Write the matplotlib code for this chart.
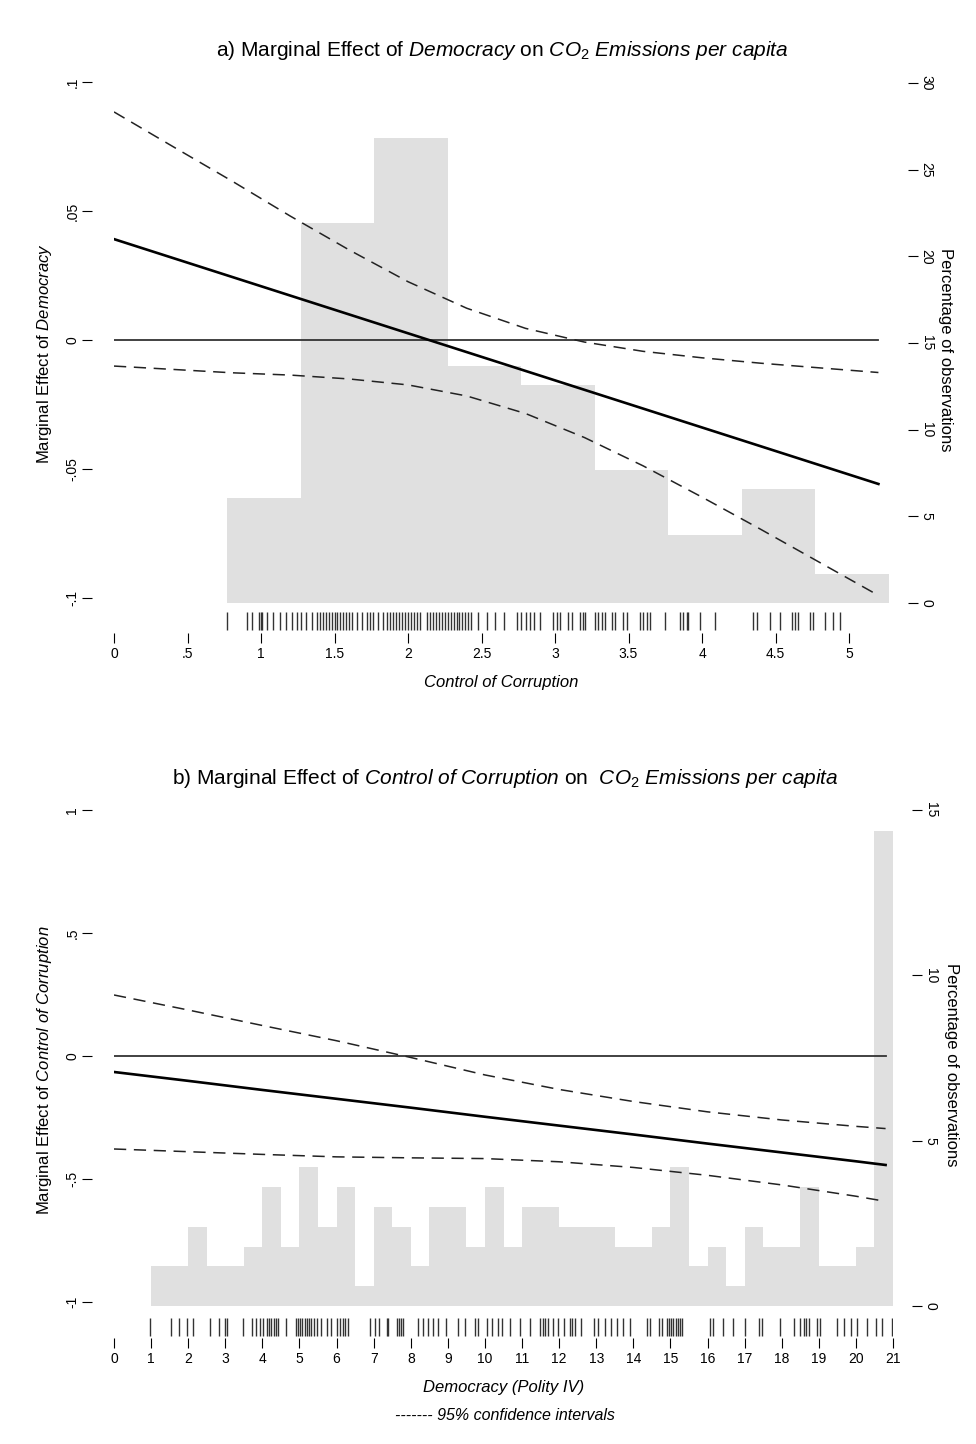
import numpy as np
import matplotlib
matplotlib.use("Agg")
import matplotlib.pyplot as plt

plt.rcParams['font.family'] = ['Liberation Sans', 'DejaVu Sans']
plt.rcParams['mathtext.fontset'] = 'custom'
plt.rcParams['mathtext.rm'] = 'Liberation Sans'
plt.rcParams['mathtext.it'] = 'Liberation Sans:italic'

# ---- panel a: marginal effect of democracy over control of corruption ----
a_x = [0, 0.4, 0.8, 1.2, 1.6, 2.0, 2.4, 2.8, 3.2, 3.6, 4.0, 4.4, 4.8, 5.2]
a_eff = [0.0391, 0.0318, 0.0245, 0.0172, 0.0099, 0.0026, -0.0047, -0.0120,
         -0.0193, -0.0266, -0.0339, -0.0412, -0.0485, -0.0558]
a_up = [0.0884, 0.0750, 0.0617, 0.0480, 0.0349, 0.0226, 0.0123, 0.0045,
        -0.0008, -0.0044, -0.0069, -0.0090, -0.0108, -0.0126]
a_lo = [-0.0101, -0.0114, -0.0127, -0.0136, -0.0151, -0.0174, -0.0217, -0.0285,
        -0.0378, -0.0488, -0.0609, -0.0734, -0.0862, -0.0990]
a_edges = [0.77, 1.27, 1.77, 2.27, 2.77, 3.27, 3.77, 4.27, 4.77, 5.27]
a_pct = [6.06, 21.9, 26.8, 13.7, 12.6, 7.7, 3.9, 6.6, 1.7]
a_rug = [0.767, 0.903, 0.937, 0.989, 0.998, 1.007, 1.039, 1.084, 1.129, 1.170,
         1.209, 1.247, 1.270, 1.306, 1.345, 1.38, 1.40, 1.42, 1.44, 1.46, 1.48,
         1.50, 1.52, 1.54, 1.56, 1.58, 1.60, 1.62, 1.651, 1.685, 1.72, 1.74,
         1.76, 1.798, 1.832, 1.86, 1.88, 1.90, 1.92, 1.94, 1.96, 1.98, 2.00,
         2.02, 2.04, 2.06, 2.08, 2.13, 2.15, 2.17, 2.19, 2.21, 2.23, 2.25,
         2.27, 2.29, 2.31, 2.33, 2.35, 2.37, 2.39, 2.41, 2.43, 2.478, 2.535,
         2.592, 2.653, 2.74, 2.77, 2.80, 2.83, 2.86, 2.898, 2.988, 3.011,
         3.034, 3.090, 3.113, 3.170, 3.193, 3.204, 3.272, 3.295, 3.318, 3.340,
         3.386, 3.408, 3.465, 3.488, 3.578, 3.601, 3.624, 3.646, 3.748, 3.850,
         3.873, 3.896, 3.907, 3.986, 4.088, 4.349, 4.372, 4.463, 4.531, 4.610,
         4.633, 4.655, 4.735, 4.757, 4.837, 4.893, 4.939]
a_xticks = [0, 0.5, 1, 1.5, 2, 2.5, 3, 3.5, 4, 4.5, 5]
a_xlabels = ['0', '.5', '1', '1.5', '2', '2.5', '3', '3.5', '4', '4.5', '5']
a_yticks = [-0.1, -0.05, 0, 0.05, 0.1]
a_ylabels = ['-.1', '-.05', '0', '.05', '.1']
a_rticks = [0, 5, 10, 15, 20, 25, 30]

# ---- panel b: marginal effect of control of corruption over democracy ----
b_x = [0, 2, 4, 6, 8, 10, 12, 14, 16, 18, 20, 20.8]
b_eff = [-0.065, -0.101, -0.138, -0.174, -0.210, -0.247, -0.283, -0.319,
         -0.356, -0.392, -0.428, -0.443]
b_up = [0.248, 0.187, 0.124, 0.062, -0.006, -0.077, -0.136, -0.185, -0.227,
        -0.260, -0.286, -0.295]
b_lo = [-0.378, -0.389, -0.400, -0.410, -0.414, -0.417, -0.430, -0.453, -0.485,
        -0.524, -0.570, -0.591]
b_counts = [2, 2, 4, 2, 2, 3, 6, 3, 7, 4, 6, 1, 5, 4, 2, 5, 5, 3, 6, 3,
            5, 5, 4, 4, 4, 3, 3, 4, 7, 2, 3, 1, 4, 3, 3, 6, 2, 2, 3, 24]
b_rug = [0.96, 1.54, 1.75, 1.97, 2.13, 2.58, 2.82, 2.98, 3.04, 3.47, 3.73, 3.84,
         3.94, 4.03, 4.12, 4.18, 4.24, 4.30, 4.36, 4.42, 4.63, 4.90, 4.96, 5.02,
         5.08, 5.14, 5.20, 5.26, 5.32, 5.38, 5.46, 5.59, 5.73, 5.86, 6.00, 6.10,
         6.17, 6.24, 6.31, 6.90, 7.03, 7.15, 7.35, 7.39, 7.62, 7.68, 7.74, 7.80,
         8.20, 8.34, 8.47, 8.61, 8.74, 8.95, 9.28, 9.46, 9.73, 9.82, 10.05,
         10.18, 10.36, 10.45, 10.68, 10.94, 11.21, 11.48, 11.57, 11.63, 11.70,
         11.84, 11.97, 12.14, 12.29, 12.35, 12.42, 12.60, 12.95, 13.04, 13.23,
         13.41, 13.55, 13.73, 13.91, 14.36, 14.45, 14.68, 14.77, 14.90, 14.96,
         15.02, 15.08, 15.14, 15.20, 15.26, 15.30, 16.07, 16.16, 16.43, 16.70,
         17.02, 17.38, 17.47, 17.96, 18.32, 18.50, 18.59, 18.66, 18.73, 18.95,
         19.02, 19.50, 19.68, 19.86, 20.04, 20.31, 20.53, 20.71, 20.98]
b_xticks = list(range(0, 22))
b_yticks = [-1, -0.5, 0, 0.5, 1]
b_ylabels = ['-1', '-.5', '0', '.5', '1']
b_rticks = [0, 5, 10, 15]

W, H = 976, 1444
fig = plt.figure(figsize=(W / 100, H / 100), dpi=100)
bar_col = '#e0e0e0'
tick_kw = dict(length=7, width=0.8, color='black', labelsize=10)


def box(l, r, t, b):
    return [l / W, 1 - b / H, (r - l) / W, (b - t) / H]


def panel(rect, xlim, ylim, rlim, x, eff, up, lo, edges, pct, rug, rug_y,
          xticks, xlabels, yticks, ylabels, rticks, gap_l, gap_r):
    ax = fig.add_axes(rect)
    ax2 = ax.twinx()
    ax.set_zorder(ax2.get_zorder() + 1)
    ax.patch.set_visible(False)

    ax2.bar(edges[:-1], pct, width=np.diff(edges), align='edge',
            color=bar_col, linewidth=0)
    ax2.set_ylim(*rlim)

    ax.plot([x[0], x[-1]], [0, 0], color='#333333', lw=1.3)
    ax.plot(x, up, color='#222222', lw=1.1, dashes=(8, 5))
    ax.plot(x, lo, color='#222222', lw=1.1, dashes=(8, 5))
    ax.plot(x, eff, color='black', lw=1.9)
    ax.vlines(rug, rug_y[0], rug_y[1], color='#333333', lw=1.0)
    ax.set_xlim(*xlim)
    ax.set_ylim(*ylim)

    for s in ax.spines.values():
        s.set_color('none')
    for s in ax2.spines.values():
        s.set_color('none')
    ax.spines['left'].set_position(('outward', gap_l))
    ax2.spines['right'].set_position(('outward', gap_r))

    ax.set_xticks(xticks)
    ax.set_xticklabels(xlabels)
    ax.set_yticks(yticks)
    ax.set_yticklabels(ylabels, rotation=90, va='center')
    ax.tick_params(axis='x', pad=3, **tick_kw)
    ax.tick_params(axis='y', pad=2, **tick_kw)
    ax2.set_yticks(rticks)
    ax2.set_yticklabels([str(v) for v in rticks], rotation=-90, va='center')
    ax2.tick_params(axis='y', pad=1, **tick_kw)
    return ax, ax2


# panel a
a_ylim = (-0.1 - (633 - 598) * 0.2 / 516, 0.1 + (82 - 75) * 0.2 / 516)
a_rlim = (-(633 - 603) * 30 / 520, 30 + (83 - 75) * 30 / 520)
a_rug_y = (-0.1 - (612 - 598) * 0.2 / 516, -0.1 - (630 - 598) * 0.2 / 516)
axa, axa2 = panel(box(114, 889, 75, 633), (0, 5.272), a_ylim, a_rlim,
                  a_x, a_eff, a_up, a_lo, a_edges, a_pct, a_rug, a_rug_y,
                  a_xticks, a_xlabels, a_yticks, a_ylabels, a_rticks, 16, 14)
axa.set_xlabel('Control of Corruption', fontsize=12, style='italic', labelpad=10)
axa.set_ylabel(r'Marginal Effect of $\mathit{Democracy}$', fontsize=12, labelpad=8)
fig.text(946 / W, 1 - 350 / H, 'Percentage of observations', fontsize=12,
         rotation=-90, ha='center', va='center')
fig.text(502 / W, 1 - 51 / H,
         r'a) Marginal Effect of $\mathit{Democracy}$ on $\mathit{CO}_{\mathrm{2}}$'
         r' $\mathit{Emissions\ per\ capita}$', fontsize=15,
         ha='center', va='center')

# panel b
b_edges = [1 + 0.5 * i for i in range(41)]
b_pct = 100 * np.array(b_counts) / np.sum(b_counts)
b_ylim = (-1 - (1338 - 1302) * 2 / 492, 1 + (810 - 803) * 2 / 492)
b_rlim = (-(1338 - 1306) * 15 / 496, 15 + (810 - 803) * 15 / 496)
b_rug_y = (-1 - (1318 - 1302) * 2 / 492, -1 - (1336 - 1302) * 2 / 492)
axb, axb2 = panel(box(114, 893, 803, 1338), (0, 21), b_ylim, b_rlim,
                  b_x, b_eff, b_up, b_lo, b_edges, b_pct, b_rug, b_rug_y,
                  b_xticks, [str(v) for v in b_xticks], b_yticks, b_ylabels,
                  b_rticks, 16, 14)
axb.set_xlabel('Democracy (Polity IV)', fontsize=12, style='italic', labelpad=10)
axb.set_ylabel(r'Marginal Effect of $\mathit{Control\ of\ Corruption}$',
               fontsize=12, labelpad=8)
fig.text(951 / W, 1 - 1065 / H, 'Percentage of observations', fontsize=12,
         rotation=-90, ha='center', va='center')
fig.text(505 / W, 1 - 778 / H,
         r'b) Marginal Effect of $\mathit{Control\ of\ Corruption}$ on  '
         r'$\mathit{CO}_{\mathrm{2}}$ $\mathit{Emissions\ per\ capita}$',
         fontsize=15, ha='center', va='center')
fig.text(505 / W, 1 - 1415 / H, '------- 95% confidence intervals',
         fontsize=11.5, style='italic', ha='center', va='center')

fig.savefig('out.png', dpi=100, facecolor='white')
